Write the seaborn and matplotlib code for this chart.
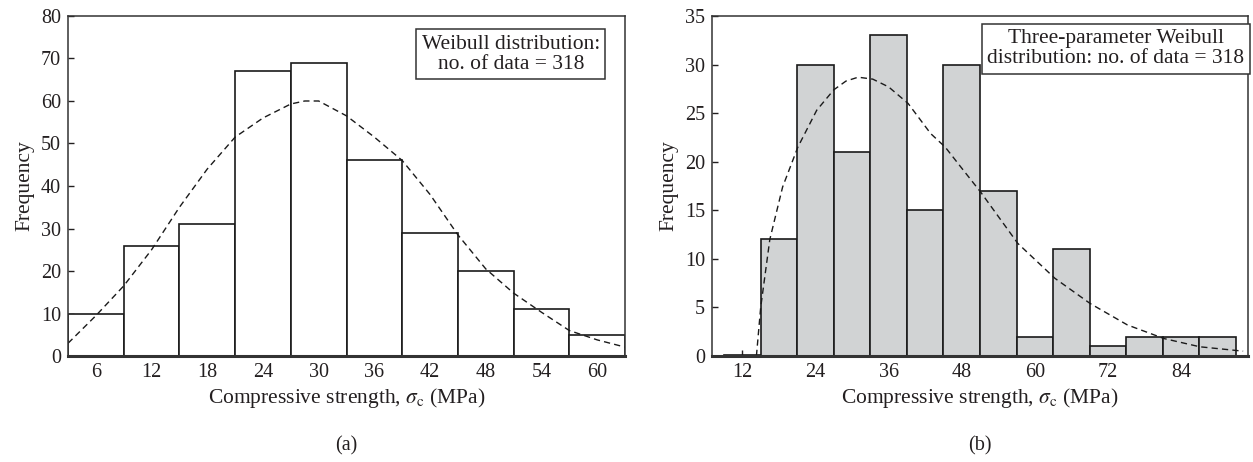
import numpy as np
import matplotlib
matplotlib.use("Agg")
import matplotlib.pyplot as plt
import seaborn as sns

# (a) Weibull distribution histogram
a_edges = [3, 9, 15, 21, 27, 33, 39, 45, 51, 57, 63]
a_counts = [10, 26, 31, 67, 69, 46, 29, 20, 11, 5]
a_curve_x = [3, 6, 9, 12, 15, 18, 21, 24, 27, 28.5, 30, 33, 36, 39, 42, 45, 48, 51, 54, 57, 60, 63]
a_curve_y = [3, 9.5, 16.5, 25, 35, 44, 51.5, 56, 59.3, 60, 60, 56.5, 51.5, 46, 38, 28.5, 20.5,
             14.8, 10.3, 6, 3.8, 2.1]

# (b) Three-parameter Weibull histogram
b_edges = [9, 15, 21, 27, 33, 39, 45, 51, 57, 63, 69, 75, 81, 87, 93]
b_counts = [0.15, 12, 30, 21, 33, 15, 30, 17, 2, 11, 1, 2, 2, 2]
b_curve_x = [14.3, 15, 16.5, 18.6, 21.1, 24.2, 27, 29, 31, 33.4, 36, 39.2, 42.9, 45.3, 47.8,
             51.2, 57.2, 63.3, 69.1, 75.2, 81.2, 87.1, 94.2]
b_curve_y = [0, 5, 12, 17.4, 21.5, 25.3, 27.4, 28.3, 28.7, 28.5, 27.7, 26, 22.9, 21.5, 19.5,
             16.8, 11.6, 8, 5.4, 3.2, 1.8, 0.95, 0.5]

sns.set_style("ticks")
plt.rcParams['font.family'] = ['Liberation Serif', 'DejaVu Serif']
plt.rcParams['mathtext.fontset'] = 'stix'

fig = plt.figure(figsize=(12.53, 4.62), dpi=100)
ax_a = fig.add_axes([0.0543, 0.2294, 0.4445, 0.736])
ax_b = fig.add_axes([0.5682, 0.2294, 0.4278, 0.736])

xlabel = r'Compressive strength, $\sigma_{\mathrm{c}}$ (MPa)'


def draw(ax, edges, counts, cx, cy, color, xlim, ylim, xticks, yticks, note, note_pos, tag):
    centers = [(edges[i] + edges[i + 1]) / 2 for i in range(len(counts))]
    sns.histplot(x=centers, weights=counts, bins=edges, ax=ax, color=color,
                 edgecolor='#1a1a1a', linewidth=1.2, alpha=1)
    sns.lineplot(x=cx, y=cy, ax=ax, color='#1a1a1a', linewidth=1.0,
                 linestyle=(0, (4.5, 3)), sort=False)
    ax.set_xlim(*xlim)
    ax.set_ylim(*ylim)
    ax.set_xticks(xticks)
    ax.set_yticks(yticks)
    ax.tick_params(direction='in', length=4, width=1, labelsize=14.5, colors='#231f20',
                   pad=5)
    for s in ax.spines.values():
        s.set_linewidth(1.1)
        s.set_color('#333333')
    ax.spines['bottom'].set_linewidth(2.2)
    ax.set_xlabel(xlabel, fontsize=15.5, color='#231f20', labelpad=3)
    ax.set_ylabel('Frequency', fontsize=15.5, color='#231f20', labelpad=5)
    ax.text(note_pos[0], note_pos[1], note, transform=ax.transAxes, ha='center',
            va='center', fontsize=15.5, color='#231f20', linespacing=1.1,
            bbox=dict(boxstyle='square,pad=0.25', facecolor='white',
                      edgecolor='#333333', linewidth=1.1))
    ax.text(0.5, -0.235, tag, transform=ax.transAxes, ha='center', va='top',
            fontsize=14.5, color='#231f20')


draw(ax_a, a_edges, a_counts, a_curve_x, a_curve_y, 'white', (3, 63), (0, 80),
     [6, 12, 18, 24, 30, 36, 42, 48, 54, 60], range(0, 81, 10),
     'Weibull distribution:\nno. of data = 318', (0.795, 0.887), '(a)')
draw(ax_b, b_edges, b_counts, b_curve_x, b_curve_y, '#d1d3d4', (7, 95), (0, 35),
     [12, 24, 36, 48, 60, 72, 84], range(0, 36, 5),
     'Three-parameter Weibull\ndistribution: no. of data = 318', (0.753, 0.904), '(b)')

fig.savefig('out.png', dpi=100)
